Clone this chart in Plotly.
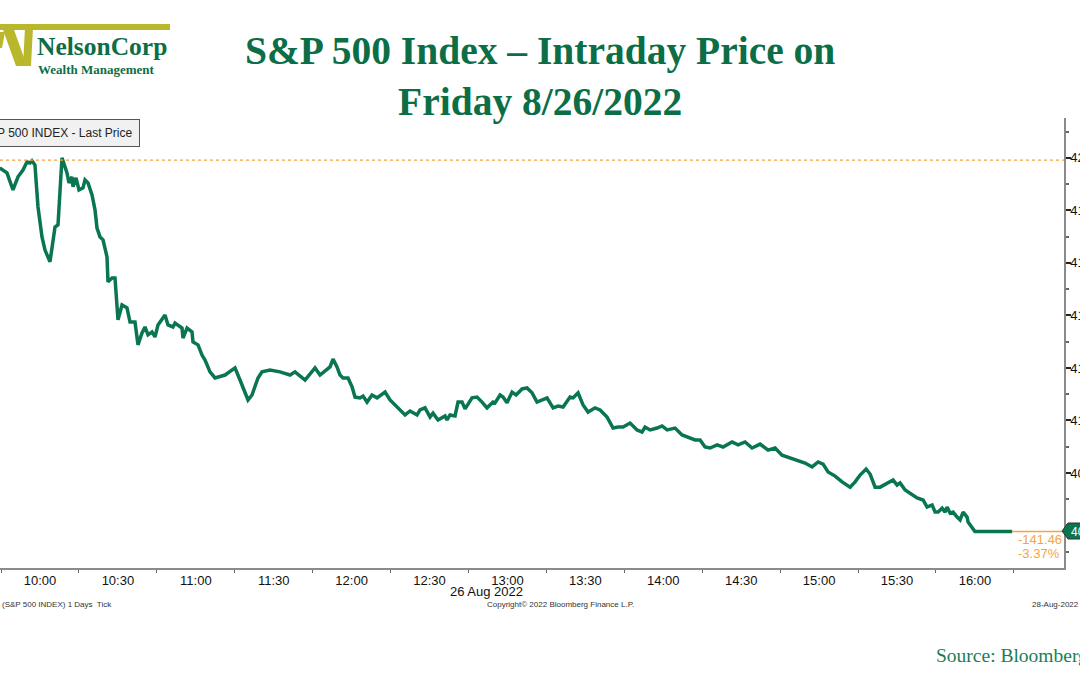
import plotly.graph_objects as go

DAY = "2022-08-26 "

times = [
    "09:44:30", "09:47:17", "09:49:36", "09:51:32", "09:53:27", "09:55:00", "09:56:09", "09:56:55",
    "09:58:04", "09:59:14", "10:00:46", "10:01:56", "10:03:51", "10:05:47", "10:06:56", "10:08:28",
    "10:10:24", "10:11:10", "10:12:19", "10:12:43", "10:13:52", "10:15:01", "10:16:34", "10:17:20",
    "10:18:29", "10:20:02", "10:21:11", "10:21:57", "10:23:07", "10:24:16", "10:25:48", "10:26:11",
    "10:27:44", "10:28:53", "10:30:02", "10:31:35", "10:33:30", "10:34:40", "10:36:35", "10:37:44",
    "10:39:17", "10:40:26", "10:41:35", "10:43:08", "10:44:17", "10:45:26", "10:48:08", "10:49:17",
    "10:51:13", "10:51:59", "10:54:41", "10:55:04", "10:56:37", "10:58:32", "10:58:55", "11:00:51",
    "11:02:23", "11:03:33", "11:05:28", "11:07:24", "11:11:15", "11:15:05", "11:17:01", "11:20:06",
    "11:21:38", "11:23:57", "11:25:29", "11:28:34", "11:32:25", "11:36:17", "11:38:12", "11:42:03",
    "11:45:54", "11:47:50", "11:51:41", "11:52:50", "11:54:22", "11:55:32", "11:56:41", "11:58:37",
    "12:00:09", "12:01:18", "12:03:14", "12:04:23", "12:05:56", "12:07:51", "12:09:47", "12:12:52",
    "12:14:47", "12:17:52", "12:20:34", "12:22:29", "12:25:11", "12:26:20", "12:28:16", "12:30:11",
    "12:31:20", "12:33:16", "12:35:58", "12:36:44", "12:37:53", "12:39:49", "12:40:58", "12:42:31",
    "12:43:40", "12:46:22", "12:48:17", "12:50:13", "12:52:08", "12:54:27", "12:55:13", "12:57:09",
    "12:58:18", "12:59:50", "13:01:46", "13:03:19", "13:05:37", "13:07:32", "13:09:28", "13:11:23",
    "13:13:42", "13:15:14", "13:16:24", "13:17:34", "13:19:29", "13:21:25", "13:24:06", "13:25:16",
    "13:27:11", "13:29:07", "13:31:02", "13:33:44", "13:35:40", "13:38:21", "13:40:40", "13:42:35",
    "13:44:31", "13:47:13", "13:49:54", "13:51:50", "13:52:59", "13:54:55", "13:57:37", "13:59:32",
    "14:01:28", "14:04:32", "14:07:14", "14:09:32", "14:12:14", "14:14:10", "14:16:05", "14:18:01",
    "14:20:43", "14:23:01", "14:26:29", "14:28:48", "14:31:30", "14:34:11", "14:37:16", "14:40:21",
    "14:43:03", "14:45:44", "14:48:50", "14:51:55", "14:54:36", "14:57:18", "14:59:37", "15:01:32",
    "15:03:28", "15:06:10", "15:08:51", "15:11:56", "15:13:52", "15:15:47", "15:18:06", "15:19:38",
    "15:21:34", "15:23:29", "15:26:34", "15:28:30", "15:30:02", "15:31:11", "15:33:07", "15:35:02",
    "15:37:44", "15:40:03", "15:41:35", "15:43:31", "15:44:40", "15:45:49", "15:47:22", "15:48:31",
    "15:49:17", "15:50:26", "15:51:36", "15:53:08", "15:54:17", "15:55:27", "15:56:59", "15:57:22",
    "16:00:00", "16:14:20",
]

prices = [
    4196.2, 4194.3, 4187.8, 4192.8, 4195.4, 4198.5, 4198.1, 4198.9,
    4197.3, 4181.3, 4169.9, 4164.9, 4160.4, 4173.7, 4174.5, 4200.0,
    4194.3, 4190.5, 4192.8, 4189.0, 4192.4, 4187.8, 4188.6, 4191.6,
    4190.5, 4185.9, 4180.2, 4173.3, 4169.9, 4168.8, 4162.3, 4152.8,
    4154.3, 4154.3, 4138.3, 4144.0, 4142.9, 4137.5, 4137.5, 4128.8,
    4133.3, 4135.6, 4132.6, 4133.7, 4131.8, 4136.4, 4140.2, 4136.4,
    4135.6, 4137.1, 4135.2, 4131.4, 4135.2, 4133.7, 4129.9, 4128.8,
    4124.9, 4123.0, 4118.5, 4116.2, 4117.3, 4120.0, 4115.4, 4107.8,
    4109.7, 4116.2, 4118.5, 4119.2, 4118.5, 4117.3, 4118.5, 4115.4,
    4120.0, 4117.3, 4120.4, 4123.4, 4120.4, 4117.3, 4116.2, 4116.2,
    4112.8, 4108.9, 4108.6, 4109.3, 4107.0, 4109.7, 4108.6, 4110.8,
    4107.8, 4104.8, 4102.1, 4103.6, 4102.1, 4104.0, 4104.8, 4101.3,
    4102.8, 4100.2, 4101.7, 4100.2, 4102.1, 4101.7, 4107.0, 4107.0,
    4104.4, 4108.6, 4108.9, 4107.0, 4104.8, 4107.0, 4106.7, 4109.7,
    4108.9, 4106.7, 4110.8, 4109.7, 4112.0, 4112.4, 4110.5, 4107.0,
    4107.8, 4108.6, 4106.7, 4104.8, 4105.5, 4105.1, 4108.9, 4108.6,
    4110.5, 4105.9, 4103.2, 4104.8, 4104.0, 4101.3, 4097.1, 4097.5,
    4097.5, 4099.0, 4096.4, 4095.6, 4097.5, 4096.4, 4097.1, 4097.9,
    4096.4, 4097.1, 4094.5, 4093.7, 4092.6, 4092.6, 4089.9, 4089.5,
    4090.7, 4089.9, 4091.8, 4090.7, 4091.8, 4089.5, 4091.0, 4088.7,
    4089.5, 4086.8, 4085.7, 4084.5, 4083.8, 4082.3, 4084.2, 4083.4,
    4080.4, 4078.8, 4076.6, 4074.6, 4076.6, 4079.2, 4081.5, 4079.6,
    4074.6, 4074.6, 4076.2, 4077.3, 4075.4, 4076.2, 4073.5, 4072.4,
    4070.5, 4069.7, 4067.0, 4067.8, 4065.1, 4065.1, 4066.6, 4065.1,
    4067.0, 4064.7, 4065.1, 4063.2, 4062.1, 4065.1, 4063.2, 4061.3,
    4057.66, 4057.66,
]

last_price = 4057.66
prev_close = 4199.12
net_change = "-141.46"
pct_change = "-3.37%"
tail_times = ["16:14:20", "16:34:30"]

x_tick_labels = ["10:00", "10:30", "11:00", "11:30", "12:00", "12:30", "13:00",
                 "13:30", "14:00", "14:30", "15:00", "15:30", "16:00"]
y_tick_values = [4080, 4100, 4120, 4140, 4160, 4180, 4200]

x_range = ["09:44:36", "16:34:18"]
y_range = [4043.8, 4215.2]

GREEN_LINE = "#0a7650"
GREEN_TEXT = "#0c6e46"
ORANGE = "#f5a443"
OLIVE = "#b9b72c"

W, H = 1080, 675
ML, MR, MT, MB = 0, 16, 118, 107
PW = W - ML - MR
PH = H - MT - MB


def px(x):
    return (x - ML) / PW


def py(y):
    return (H - MB - y) / PH


fig = go.Figure()

fig.add_trace(go.Scatter(
    x=[DAY + t for t in times], y=prices, mode="lines",
    line=dict(color=GREEN_LINE, width=3.5), hoverinfo="skip", showlegend=False,
))
fig.add_trace(go.Scatter(
    x=[DAY + t for t in tail_times], y=[last_price, last_price], mode="lines",
    line=dict(color=ORANGE, width=1.5), hoverinfo="skip", showlegend=False,
))

shapes = [
    dict(type="line", xref="paper", yref="y", x0=0, x1=1, y0=prev_close, y1=prev_close,
         line=dict(color=ORANGE, width=1.3, dash="dot")),
    # logo bar and W strokes
    dict(type="rect", xref="paper", yref="paper", x0=px(0), x1=px(170), y0=py(24), y1=py(30),
         fillcolor=OLIVE, line=dict(width=0)),
    dict(type="path", xref="paper", yref="paper",
         path=f"M {px(2)},{py(27)} L {px(13)},{py(27)} L {px(27)},{py(66)} L {px(16)},{py(66)} Z",
         fillcolor=OLIVE, line=dict(width=0)),
    dict(type="path", xref="paper", yref="paper",
         path=f"M {px(25)},{py(27)} L {px(33)},{py(27)} L {px(31)},{py(66)} L {px(23)},{py(66)} Z",
         fillcolor=OLIVE, line=dict(width=0)),
    dict(type="path", xref="paper", yref="paper",
         path=f"M {px(0)},{py(32)} L {px(5)},{py(32)} L {px(2)},{py(48)} L {px(0)},{py(48)} Z",
         fillcolor=OLIVE, line=dict(width=0)),
    # price pentagon marker at right axis
    dict(type="path", xref="paper", yref="paper",
         path=(f"M {px(1062)},{py(531)} L {px(1068)},{py(523)} L {px(1090)},{py(523)} "
               f"L {px(1090)},{py(539)} L {px(1068)},{py(539)} Z"),
         fillcolor=GREEN_LINE, line=dict(color="#333333", width=1)),
]

annotations = [
    dict(xref="paper", yref="paper", x=px(540), y=py(76), xanchor="center", yanchor="middle",
         text="<b>S&amp;P 500 Index – Intraday Price on<br>Friday 8/26/2022</b>", showarrow=False,
         font=dict(family="Liberation Serif", size=39.5, color=GREEN_TEXT)),
    dict(xref="paper", yref="paper", x=px(35), y=py(47), xanchor="left", yanchor="middle",
         text="<b>NelsonCorp</b>", showarrow=False,
         font=dict(family="Liberation Serif", size=25.5, color=GREEN_TEXT)),
    dict(xref="paper", yref="paper", x=px(36), y=py(69), xanchor="left", yanchor="middle",
         text="<b>Wealth Management</b>", showarrow=False,
         font=dict(family="Liberation Serif", size=13, color=GREEN_TEXT)),
    dict(xref="paper", yref="paper", x=px(140), y=py(133), xanchor="right", yanchor="middle",
         text="S&amp;P 500 INDEX - Last Price", showarrow=False,
         font=dict(family="Liberation Sans", size=12, color="#222222"),
         bgcolor="#f1f1f1", bordercolor="#555555", borderwidth=1, borderpad=6),
    dict(xref="paper", yref="paper", x=px(1016), y=py(539), xanchor="left", yanchor="middle",
         text=net_change, showarrow=False,
         font=dict(family="Liberation Sans", size=13, color=ORANGE)),
    dict(xref="paper", yref="paper", x=px(1016), y=py(553), xanchor="left", yanchor="middle",
         text=pct_change, showarrow=False,
         font=dict(family="Liberation Sans", size=13, color=ORANGE)),
    dict(xref="paper", yref="y", x=px(1069), y=last_price, xanchor="left", yanchor="middle",
         text=f"{last_price:.2f}", showarrow=False,
         font=dict(family="Liberation Sans", size=12, color="white")),
    dict(xref="paper", yref="paper", x=px(486), y=py(591), xanchor="center", yanchor="middle",
         text="26 Aug 2022", showarrow=False,
         font=dict(family="Liberation Sans", size=13, color="#111111")),
    dict(xref="paper", yref="paper", x=px(0), y=py(604), xanchor="left", yanchor="middle",
         text="(S&amp;P 500 INDEX) 1 Days  Tick", showarrow=False,
         font=dict(family="Liberation Sans", size=8, color="#333333")),
    dict(xref="paper", yref="paper", x=px(560), y=py(604), xanchor="center", yanchor="middle",
         text="Copyright© 2022 Bloomberg Finance L.P.", showarrow=False,
         font=dict(family="Liberation Sans", size=8, color="#333333")),
    dict(xref="paper", yref="paper", x=px(1030), y=py(604), xanchor="left", yanchor="middle",
         text="28-Aug-2022 17:49:04", showarrow=False,
         font=dict(family="Liberation Sans", size=8, color="#333333")),
    dict(xref="paper", yref="paper", x=px(934), y=py(655), xanchor="left", yanchor="middle",
         text="Source: Bloomberg", showarrow=False,
         font=dict(family="Liberation Serif", size=19.5, color="#1b7d58")),
]

fig.update_layout(
    width=W, height=H,
    margin=dict(l=ML, r=MR, t=MT, b=MB, autoexpand=False),
    paper_bgcolor="white", plot_bgcolor="white",
    showlegend=False,
    shapes=shapes, annotations=annotations,
    xaxis=dict(
        type="date", range=[DAY + x_range[0], DAY + x_range[1]],
        tickmode="array", tickvals=[DAY + t + ":00" for t in x_tick_labels], ticktext=x_tick_labels,
        ticks="", showgrid=False, zeroline=False,
        showline=True, linecolor="#8a8a8a", linewidth=1.5,
        tickfont=dict(family="Liberation Sans", size=13, color="#111111"),
        minor=dict(tick0=DAY + "09:45:00", dtick=30 * 60 * 1000, ticks="outside",
                   ticklen=3, tickcolor="#666666", showgrid=False),
        automargin=False, fixedrange=True,
    ),
    yaxis=dict(
        side="right", range=y_range,
        tickmode="array", tickvals=y_tick_values, ticktext=[str(v) for v in y_tick_values],
        ticks="outside", ticklen=5, tickcolor="#222222", tickwidth=1.5,
        ticklabelstandoff=-3,
        showgrid=False, zeroline=False,
        showline=True, linecolor="#8a8a8a", linewidth=1.5,
        tickfont=dict(family="Liberation Sans", size=13, color="#111111"),
        minor=dict(tick0=4000, dtick=10, ticks="outside", ticklen=3, tickcolor="#666666", showgrid=False),
        automargin=False, fixedrange=True,
    ),
)

fig.write_html(
    "out.html",
    config={"displayModeBar": False},
    post_script="document.body.style.margin='0';document.body.style.overflow='hidden';",
)
